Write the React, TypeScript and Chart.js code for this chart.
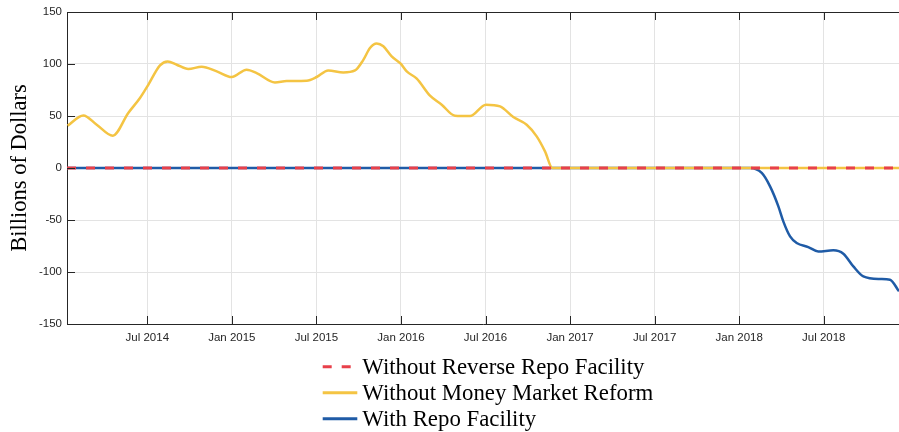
import React, { useEffect, useRef } from "react";
import { Chart, registerables } from "chart.js";

Chart.register(...registerables);

// x values are months since Jan 2014 (0 = Jan 1, 2014)
const tickMonths = [6, 12, 18, 24, 30, 36, 42, 48, 54];
const tickLabels = ["Jul 2014", "Jan 2015", "Jul 2015", "Jan 2016", "Jul 2016", "Jan 2017", "Jul 2017", "Jan 2018", "Jul 2018"];
const xMin = 0.302;
const xMax = 59.34;
const yTicks = [-150, -100, -50, 0, 50, 100, 150];

const reverseRepoMonths = [0.302, 59.34];
const reverseRepoValues = [0, 0];

const mmReformMonths = [
  0.35, 1.46, 2.41, 3.55, 4.65, 5.48, 6.07, 6.9, 7.45, 8.09, 8.91, 9.86, 10.93, 11.99, 13.05, 13.76,
  15.06, 15.89, 17.31, 18.02, 18.84, 19.91, 20.74, 21.33, 21.8, 22.28, 22.75, 23.34, 23.98, 24.41,
  25.12, 26.06, 26.89, 27.83, 28.9, 30.03, 31.03, 31.97, 32.92, 33.63, 34.22, 34.75, 59.34,
];
const mmReformValues = [
  40.7, 50.6, 41.6, 31, 52.9, 67.3, 80, 98.7, 102.5, 99.3, 95.2, 97.4, 92.9, 87.5, 94.5, 91.3,
  82.3, 83.6, 84, 87.5, 93.8, 91.9, 93.8, 104, 115.4, 119.8, 117, 107.3, 100.3, 92.9,
  85.9, 69.5, 60.9, 50.3, 50, 60.9, 59.2, 49, 41.6, 30.4, 16, 0, 0,
];

const repoMonths = [
  0.302, 48.77, 49.6, 50.19, 50.78, 51.13, 51.61, 52.08, 52.9, 53.61, 54.68, 55.39, 56.1, 56.81, 57.99, 58.7, 59.34,
];
const repoValues = [
  0, 0, -4.8, -17.7, -36.9, -51.3, -65.8, -72.1, -76, -80.2, -79.2, -82.4, -94.6, -104.2, -106.7, -107.4, -118.6,
];

const seriesNames = ["Without Reverse Repo Facility", "Without Money Market Reform", "With Repo Facility"];
const seriesColors = ["#e8404a", "#f4c443", "#1f5ba6"];

const toPoints = (xs: number[], ys: number[]) => xs.map((x, i) => ({ x, y: ys[i] }));

const SERIF = "'Liberation Serif', 'Times New Roman', serif";
const SANS = "'Liberation Sans', Arial, sans-serif";

const boxPlugin = {
  id: "matlabBox",
  afterDraw(chart: any) {
    const { ctx, chartArea } = chart;
    const xs = chart.scales.x;
    const ys = chart.scales.y;
    ctx.save();
    ctx.strokeStyle = "#262626";
    ctx.lineWidth = 1;
    ctx.beginPath();
    ctx.moveTo(chartArea.left, chartArea.top + 0.5);
    ctx.lineTo(chartArea.right, chartArea.top + 0.5);
    const tl = 8;
    xs.ticks.forEach((t: any) => {
      const px = Math.round(xs.getPixelForValue(t.value)) + 0.5;
      ctx.moveTo(px, chartArea.bottom);
      ctx.lineTo(px, chartArea.bottom - tl);
      ctx.moveTo(px, chartArea.top);
      ctx.lineTo(px, chartArea.top + tl);
    });
    ys.ticks.forEach((t: any) => {
      const py = Math.round(ys.getPixelForValue(t.value)) + 0.5;
      ctx.moveTo(chartArea.left, py);
      ctx.lineTo(chartArea.left + tl, py);
    });
    ctx.stroke();
    ctx.restore();
  },
};

const legendPlugin = {
  id: "vertLegend",
  afterDraw(chart: any) {
    const { ctx } = chart;
    const x0 = 322.7;
    const lineLen = 34.6;
    const y0 = 366.7;
    const dy = 26;
    ctx.save();
    chart.data.datasets.forEach((ds: any, i: number) => {
      const y = y0 + i * dy;
      ctx.beginPath();
      ctx.strokeStyle = ds.borderColor;
      ctx.lineWidth = 3;
      ctx.setLineDash(ds.borderDash && ds.borderDash.length ? [9, 10] : []);
      ctx.moveTo(x0, y);
      ctx.lineTo(x0 + lineLen, y);
      ctx.stroke();
      ctx.setLineDash([]);
      ctx.fillStyle = "#000";
      ctx.font = `22.8px ${SERIF}`;
      ctx.textBaseline = "middle";
      ctx.textAlign = "left";
      ctx.fillText(ds.label, x0 + lineLen + 5, y + 1);
    });
    ctx.restore();
  },
};

export default function App() {
  const canvasRef = useRef<HTMLCanvasElement | null>(null);

  useEffect(() => {
    if (!canvasRef.current) return;
    const chart = new Chart(canvasRef.current, {
      type: "line",
      data: {
        datasets: [
          {
            label: seriesNames[0],
            data: toPoints(reverseRepoMonths, reverseRepoValues),
            borderColor: seriesColors[0],
            borderWidth: 3,
            borderDash: [9, 10],
            pointRadius: 0,
            fill: false,
          },
          {
            label: seriesNames[1],
            data: toPoints(mmReformMonths, mmReformValues),
            borderColor: seriesColors[1],
            borderWidth: 2.5,
            pointRadius: 0,
            cubicInterpolationMode: "monotone",
            fill: false,
          },
          {
            label: seriesNames[2],
            data: toPoints(repoMonths, repoValues),
            borderColor: seriesColors[2],
            borderWidth: 2.5,
            pointRadius: 0,
            cubicInterpolationMode: "monotone",
            fill: false,
          },
        ],
      },
      options: {
        animation: false,
        responsive: false,
        maintainAspectRatio: false,
        layout: { padding: { top: 12, left: 0, right: 0, bottom: 0 } },
        plugins: { legend: { display: false }, tooltip: { enabled: false } },
        scales: {
          x: {
            type: "linear",
            min: xMin,
            max: xMax,
            afterBuildTicks: (scale: any) => {
              scale.ticks = tickMonths.map((v) => ({ value: v }));
            },
            afterFit: (scale: any) => {
              scale.height = 108;
            },
            ticks: {
              autoSkip: false,
              maxRotation: 0,
              padding: 7,
              color: "#262626",
              font: { family: SANS, size: 11.5 },
              callback: (v: any) => {
                const i = tickMonths.indexOf(Number(v));
                return i >= 0 ? tickLabels[i] : "";
              },
            },
            grid: { color: "#e3e3e3", lineWidth: 1, drawTicks: false },
            border: { display: true, color: "#262626", width: 1 },
          },
          y: {
            type: "linear",
            min: -150,
            max: 150,
            afterBuildTicks: (scale: any) => {
              scale.ticks = yTicks.map((v) => ({ value: v }));
            },
            afterFit: (scale: any) => {
              scale.width = 67;
            },
            ticks: {
              padding: 5,
              color: "#262626",
              font: { family: SANS, size: 11.5 },
              callback: (v: any) => String(v),
            },
            grid: { color: "#e3e3e3", lineWidth: 1, drawTicks: false },
            border: { display: true, color: "#262626", width: 1 },
            title: {
              display: true,
              text: "Billions of Dollars",
              color: "#000",
              font: { family: SERIF, size: 22.5 },
              padding: { top: 7, bottom: 0 },
            },
          },
        },
      },
      plugins: [boxPlugin, legendPlugin],
    });
    return () => chart.destroy();
  }, []);

  return (
    <div style={{ position: "absolute", left: 0, top: 0, width: 899, height: 432, background: "#fff" }}>
      <canvas ref={canvasRef} width={899} height={432} style={{ display: "block" }} />
    </div>
  );
}
